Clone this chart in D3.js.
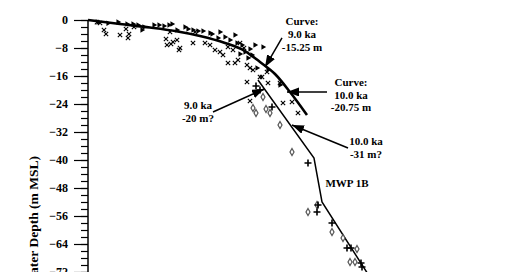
<!DOCTYPE html>
<html>
<head>
<meta charset="utf-8">
<script src="https://cdn.jsdelivr.net/npm/d3@7"></script>
<style>
  html, body { margin: 0; padding: 0; background: #fff; }
  svg { display: block; }
  text { font-family: "Liberation Serif", "Times New Roman", serif; font-weight: bold; }
</style>
</head>
<body>
<div id="chart"></div>
<script>
// Sea-level curve: age (ka) vs water depth (m MSL)
const width = 520;
const height = 272;

// Main (thick) curve
const curveAge   = [0, 1.6, 3.1, 4.35, 5.6, 6.85, 7.85, 8.6, 9.35, 10.1, 10.95];
const curveDepth = [0, -1.14, -2.14, -3.14, -4.57, -6.57, -8.86, -12.0, -15.43, -20.57, -27.14];

// Second (thin) curve with MWP 1B step
const thinAge   = [8.5, 11.3, 11.7, 14.6];
const thinDepth = [-17.14, -39.43, -52.0, -78.0];

// Samples: triangles
const triAge = [0.5, 1.5, 1.95, 2.25, 2.5, 2.8, 2.7, 3.3, 3.55, 3.8, 4.05, 4.2, 4.45, 4.85, 5.0, 5.25, 5.5, 5.75,
  6.1, 6.2, 6.5, 6.6, 6.85, 7.1, 7.35, 7.45, 7.7, 7.85, 8.1, 8.35, 8.75, 8.0, 8.45, 9.0, 9.6, 1.0, 7.6, 8.2];
const triDepth = [-0.57, -0.57, -1.14, -1.14, -1.43, -2.0, -2.86, -1.43, -1.43, -1.71, -1.43, -1.14, -2.86, -2.0, -2.57, -2.86, -3.14, -3.14,
  -3.71, -4.0, -5.14, -3.43, -4.86, -5.71, -4.29, -6.57, -7.14, -9.14, -8.29, -7.14, -7.71, -10.86, -13.7, -14.3, -18.6, -0.9, -9.7, -10.0];

// Samples: x marks
const xAge = [0.6, 0.8, 0.9, 1.6, 1.9, 2.05, 2.0, 2.3, 3.9, 3.95, 4.15, 4.25, 4.45, 4.6, 4.1, 4.55, 5.25, 5.35, 5.85, 6.1,
  6.35, 6.6, 6.75, 7.0, 7.0, 7.25, 7.35, 7.5, 7.6, 7.95, 8.1, 8.25, 8.6, 7.95, 8.7, 8.95, 9.0, 9.6, 8.1, 9.75, 10.2, 10.5, 0.45, 7.8];
const xDepth = [-0.86, -2.86, -4.0, -4.29, -2.57, -4.0, -5.14, -2.0, -5.43, -7.14, -6.86, -6.29, -5.71, -8.0, -3.43, -8.57, -6.57, -3.43, -6.57, -7.14,
  -8.57, -9.14, -10.0, -7.71, -12.29, -8.57, -12.29, -11.43, -6.57, -12.86, -13.71, -14.29, -16.29, -17.71, -16.29, -14.86, -18.0, -18.0, -23.14, -23.71, -23.43, -26.57, -0.6, -8.0];

// Samples: plus signs
const plusAge   = [8.4, 8.6, 9.2, 11.0, 11.5, 11.45, 12.2, 12.95, 13.15, 13.65, 13.7];
const plusDepth = [-18.86, -20.0, -24.86, -40.86, -52.86, -54.86, -58.0, -65.14, -65.14, -69.43, -70.57];

// Samples: open diamonds
const diaAge   = [8.75, 8.25, 8.4, 8.9, 9.1, 9.6, 10.2, 11.0, 11.45, 12.2, 12.75, 13.45, 13.1, 13.35];
const diaDepth = [-22.0, -25.14, -26.57, -25.43, -26.57, -30.0, -37.71, -54.86, -52.86, -60.57, -62.29, -65.43, -69.14, -69.14];

// Annotations: label lines, text anchor, arrow start and tip (age, depth)
const notes = [
  { lines: ["Curve:", "9.0 ka", "-15.25 m"], tx: 10.7, ty: -1.43, gap: 13, from: [9.7, -5.14], to: [8.85, -13.43] },
  { lines: ["Curve:", "10.0 ka", "-20.75 m"], tx: 13.15, ty: -18.86, gap: 12.5, from: [11.95, -20.57], to: [9.95, -20.57] },
  { lines: ["9.0 ka", "-20 m?"], tx: 5.5, ty: -25.43, gap: 13, from: [6.25, -26.29], to: [8.8, -19.71] },
  { lines: ["10.0 ka", "-31 m?"], tx: 13.9, ty: -35.71, gap: 13, from: [13.0, -36.57], to: [10.2, -30.0] },
  { lines: ["MWP 1B"], tx: 12.95, ty: -47.71, gap: 13 }
];

const yTicks = d3.range(0, -81, -8);

const x = d3.scaleLinear().domain([0, 21.6]).range([88, 520]);
const y = d3.scaleLinear().domain([0, -80]).range([20, 300]);

const svg = d3.select('#chart').append('svg')
  .attr('width', width)
  .attr('height', height);

svg.append('defs').append('marker')
  .attr('id', 'head')
  .attr('markerUnits', 'userSpaceOnUse')
  .attr('viewBox', '0 0 12 9')
  .attr('refX', 12).attr('refY', 4.5)
  .attr('markerWidth', 12).attr('markerHeight', 9)
  .attr('orient', 'auto')
  .append('path')
  .attr('d', 'M0,0 L12,4.5 L0,9 Z')
  .attr('fill', '#000');

// Y axis with minor ticks
const yAxis = svg.append('g').attr('transform', `translate(${x(0)},0)`);
yAxis.call(d3.axisLeft(y).tickValues(d3.range(0, -81, -2)).tickSize(7).tickFormat(''))
  .call(g => g.select('.domain').remove());
yAxis.append('g')
  .call(d3.axisLeft(y).tickValues(yTicks).tickSize(14).tickPadding(6).tickFormat(d3.format('d')))
  .call(g => g.select('.domain').remove())
  .call(g => g.selectAll('text').attr('font-size', 12).attr('fill', '#000')
    .style('font-family', '"Liberation Serif", serif').style('font-weight', 'bold'));
yAxis.selectAll('line').attr('stroke', '#000').attr('stroke-width', 1.2);
yAxis.append('line')
  .attr('x1', 0).attr('x2', 0)
  .attr('y1', y(0)).attr('y2', height)
  .attr('stroke', '#000').attr('stroke-width', 1.5);

svg.append('text')
  .attr('transform', `translate(38,${y(-38.86)}) rotate(-90)`)
  .attr('text-anchor', 'end')
  .attr('font-size', 13.5)
  .text('Water Depth (m MSL)');

// Curves
const line = d3.line().x(d => x(d[0])).y(d => y(d[1]));
svg.append('path')
  .datum(d3.zip(thinAge, thinDepth))
  .attr('d', line)
  .attr('fill', 'none')
  .attr('stroke', '#000')
  .attr('stroke-width', 1.5);
svg.append('path')
  .datum(d3.zip(curveAge, curveDepth))
  .attr('d', d3.line().curve(d3.curveMonotoneX).x(d => x(d[0])).y(d => y(d[1])))
  .attr('fill', 'none')
  .attr('stroke', '#000')
  .attr('stroke-width', 2.6);

// Sample markers
const marks = svg.append('g');

marks.selectAll('path.tri')
  .data(d3.zip(triAge, triDepth))
  .enter().append('path')
  .attr('class', 'tri')
  .attr('d', d3.symbol(d3.symbolTriangle, 13))
  .attr('transform', d => `translate(${x(d[0])},${y(d[1])}) rotate(90)`)
  .attr('fill', '#000');

marks.selectAll('path.xm')
  .data(d3.zip(xAge, xDepth))
  .enter().append('path')
  .attr('class', 'xm')
  .attr('d', d3.symbol(d3.symbolX, 14))
  .attr('transform', d => `translate(${x(d[0])},${y(d[1])})`)
  .attr('fill', 'none')
  .attr('stroke', '#000')
  .attr('stroke-width', 1.1);

marks.selectAll('path.dia')
  .data(d3.zip(diaAge, diaDepth))
  .enter().append('path')
  .attr('class', 'dia')
  .attr('d', d3.symbol(d3.symbolDiamond, 14))
  .attr('transform', d => `translate(${x(d[0])},${y(d[1])})`)
  .attr('fill', '#fff')
  .attr('stroke', '#555')
  .attr('stroke-width', 1.2);

marks.selectAll('path.plus')
  .data(d3.zip(plusAge, plusDepth))
  .enter().append('path')
  .attr('class', 'plus')
  .attr('d', 'M-3.5,0H3.5M0,-3.5V3.5')
  .attr('transform', d => `translate(${x(d[0])},${y(d[1])})`)
  .attr('fill', 'none')
  .attr('stroke', '#000')
  .attr('stroke-width', 1.6);

// Annotations
const ann = svg.append('g');
notes.forEach(n => {
  const t = ann.append('text')
    .attr('text-anchor', 'middle')
    .attr('font-size', 11)
    .attr('fill', '#000');
  n.lines.forEach((s, i) => {
    t.append('tspan')
      .attr('x', x(n.tx))
      .attr('y', y(n.ty) + i * n.gap)
      .text(s);
  });
  if (n.from) {
    ann.append('line')
      .attr('x1', x(n.from[0])).attr('y1', y(n.from[1]))
      .attr('x2', x(n.to[0])).attr('y2', y(n.to[1]))
      .attr('stroke', '#000')
      .attr('stroke-width', 1.5)
      .attr('marker-end', 'url(#head)');
  }
});
</script>
</body>
</html>
